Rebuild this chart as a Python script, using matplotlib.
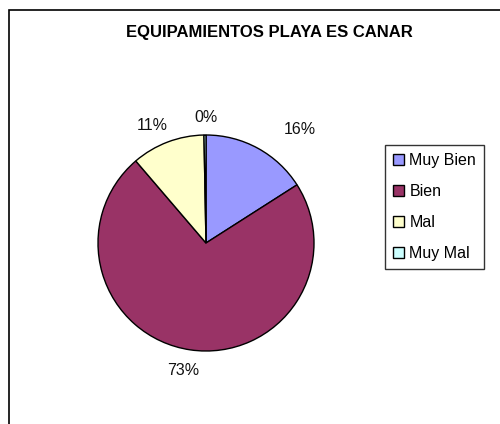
import matplotlib
matplotlib.use("Agg")
import matplotlib.pyplot as plt
from matplotlib.patches import Rectangle

categorias = ["Muy Bien", "Bien", "Mal", "Muy Mal"]
valores = [16, 73, 11, 0.3]
etiquetas = ["16%", "73%", "11%", "0%"]
colores = ["#9999FF", "#993366", "#FFFFCC", "#CCFFFF"]
# posicion de las etiquetas (en radios del pastel), como las coloca Excel
pos_etiquetas = [(0.87, 1.05), (-0.21, -1.18), (-0.50, 1.09), (0.0, 1.16)]

plt.rcParams["font.family"] = ["Liberation Sans", "DejaVu Sans"]

fig = plt.figure(figsize=(5, 4.24), dpi=100)

# marco exterior
fig.patches.append(Rectangle((9 / 500, -0.1), 1.2, (424 - 10) / 424 + 0.1,
                             transform=fig.transFigure, fill=False,
                             edgecolor="black", linewidth=1.2))

fig.text(269 / 500, 1 - 33 / 424, "EQUIPAMIENTOS PLAYA ES CANAR",
         ha="center", va="center", fontsize=12, fontweight="bold")

ax = fig.add_axes([98 / 500, 73 / 424, 216 / 500, 216 / 424])
wedges, textos = ax.pie(valores, colors=colores, startangle=90, counterclock=False,
                        labels=etiquetas, labeldistance=1.2,
                        wedgeprops=dict(edgecolor="black", linewidth=1),
                        textprops=dict(fontsize=11.5, color="#111111"))
for t, p in zip(textos, pos_etiquetas):
    t.set_position(p)
    t.set_ha("center")
    t.set_va("center")
ax.set_xlim(-1, 1)
ax.set_ylim(-1, 1)
ax.set_aspect("equal")

leg = fig.legend(wedges, categorias, loc="upper left",
                 bbox_to_anchor=(385 / 500, 1 - 145 / 424),
                 fontsize=11.5, frameon=True, fancybox=False, edgecolor="black",
                 handlelength=0.72, handleheight=0.72, handletextpad=0.3,
                 labelspacing=1.0, borderpad=0.5, borderaxespad=0)
leg.get_frame().set_linewidth(1)

fig.savefig("out.png", dpi=100)
